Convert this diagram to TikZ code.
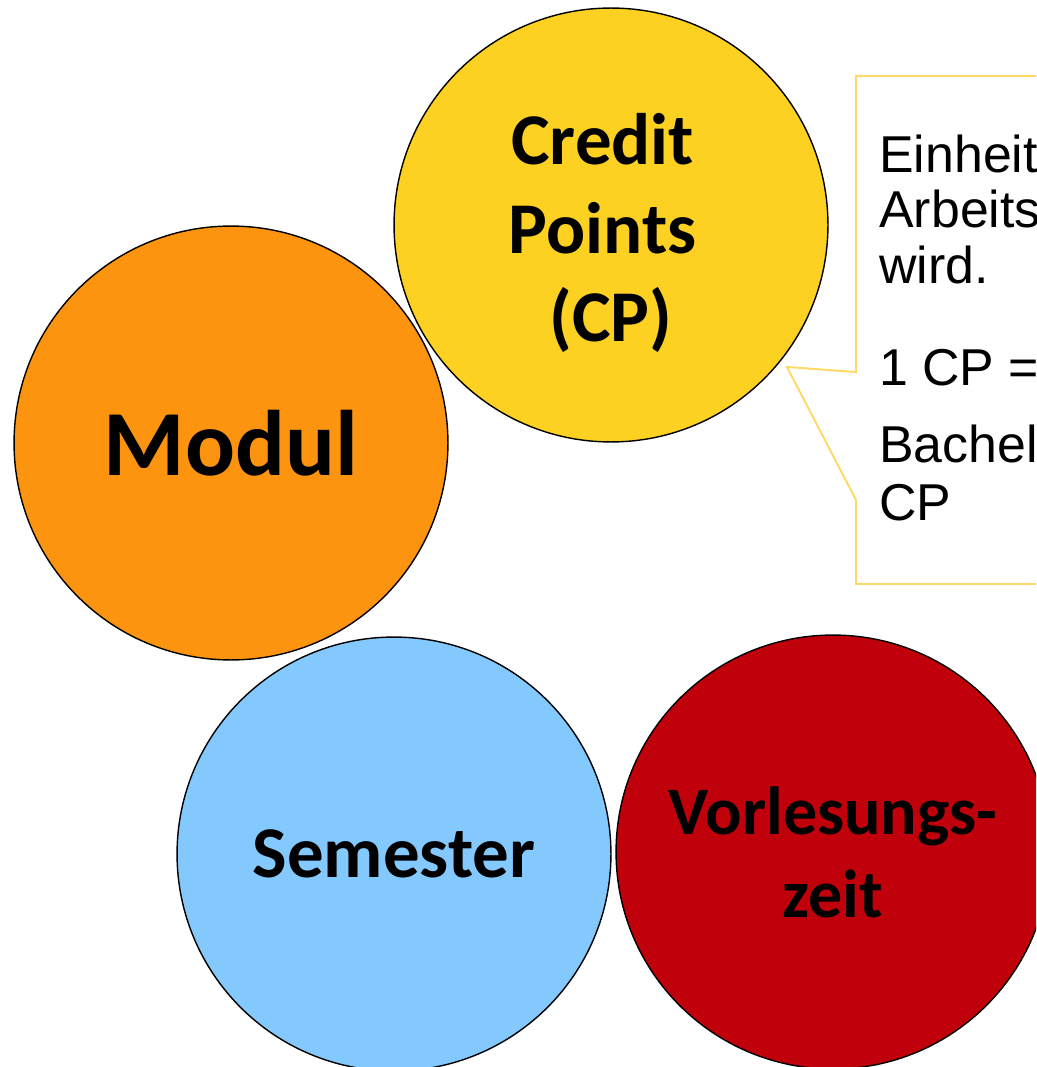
\documentclass[tikz,border=0pt]{standalone}
\usepackage{fontspec}
\newfontfamily\calibri{Carlito}
\newfontfamily\arial{Liberation Sans}
\usepackage{tikz}
\definecolor{modulorange}{HTML}{FD9410}
\definecolor{cpyellow}{HTML}{FDD121}
\definecolor{semblue}{HTML}{84C9FD}
\definecolor{vlred}{HTML}{C0000A}
\definecolor{noteline}{HTML}{FFD966}

\begin{document}
\begin{tikzpicture}[x=.02cm, y=-.02cm,
        bubble/.style={circle, draw=black, line width=.8pt, minimum size=8.68cm, inner sep=0pt, align=center,
            font=\calibri\bfseries\fontsize{41.5}{50.6}\selectfont},
        notetext/.style={anchor=base west, inner sep=0pt, font=\arial\fontsize{29.5}{33}\selectfont}]
            \useasboundingbox(0, 0)rectangle(1036, 1067);
            \clip(0, 0)rectangle(1036, 1067);
            \node[bubble, fill=modulorange, font=\calibri\bfseries\fontsize{53}{64}\selectfont](modul)at(231, 443){Modul};
            \node[bubble, fill=cpyellow](credit)at(611, 225){};
            \node[align=center, inner sep=0pt, font=\calibri\bfseries\fontsize{41.5}{50.6}\selectfont](cptext)at(611, 233){Credit\kern.226em\\Points\kern.226em\\(CP)};
            \node[bubble, fill=semblue](semester)at(394, 854){Semester};
            \node[bubble, fill=vlred, font=\calibri\bfseries\fontsize{38.7}{47.2}\selectfont](vorlesung)at(833, 852){Vorlesungs-\\zeit};
            % callout
            \coordinate(tip)at(787, 367);
            \draw[noteline, line width=1.1pt, fill=white](856, 76)--(1100, 76)--(1100, 584)--(856, 584)--(856, 500)--(tip)--(856, 372)--cycle;
            \node[notetext](l1)at(879, 173){Einheit};
            \node[notetext](l2)at(879, 228){Arbeits};
            \node[notetext](l3)at(879, 283){wird.};
            \node[notetext](l4)at(879, 385){1 CP =};
            \node[notetext](l5)at(879, 462){Bachel};
            \node[notetext](l6)at(879, 520){CP};
        \end{tikzpicture}
\end{document}
